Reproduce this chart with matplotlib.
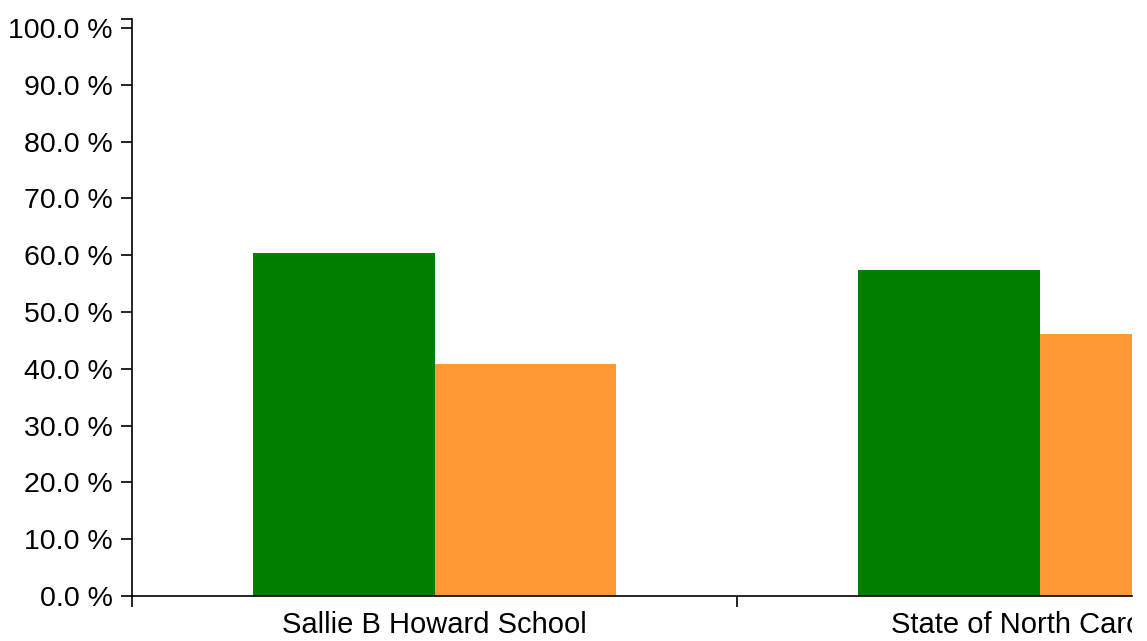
import matplotlib.pyplot as plt
from matplotlib.transforms import Bbox

categories = ["Sallie B Howard School", "State of North Carolina"]
green_values = [60.4, 57.4]
orange_values = [40.8, 46.1]
y_ticks = [0, 10, 20, 30, 40, 50, 60, 70, 80, 90, 100]

W, H = 1147, 641


def main():
    plt.rcParams["font.family"] = ["Liberation Sans", "DejaVu Sans"]
    fig = plt.figure(figsize=(W / 100, H / 100), dpi=100)
    ax = fig.add_axes([132 / W, (H - 596) / H, 1000 / W, (596 - 19) / H])

    # bars, one category per unit, clipped on the right like the original
    centers = [i + 0.5 for i in range(len(categories))]
    width = 0.3
    ax.bar([c - width / 2 for c in centers], green_values, width=width,
           color="#008000", linewidth=0)
    ax.bar([c + width / 2 for c in centers], orange_values, width=width,
           color="#FF9933", linewidth=0)

    ax.set_xlim(0, 1000 / 605)
    ax.set_ylim(0, 101.6)

    ax.set_yticks(y_ticks)
    ax.set_yticklabels([f"{v:.1f} %" for v in y_ticks])
    ax.set_yticks([101.6], minor=True)
    ax.tick_params(axis="y", which="both", direction="out", length=8,
                   width=1.2, labelsize=20.5, pad=6)

    ax.set_xticks([0, 1])
    ax.set_xticklabels([])
    ax.tick_params(axis="x", direction="out", length=8, width=1.2)

    for s in ["top", "right"]:
        ax.spines[s].set_visible(False)
    for s in ["left", "bottom"]:
        ax.spines[s].set_linewidth(1.2)

    # category labels, cut at the right edge of the plot like the original
    clip_box = Bbox.from_extents(0, 0, 1132, H)
    for c, name in zip(centers, categories):
        t = ax.text(c, (596 - 633) / 577, name, ha="center", va="baseline",
                    fontsize=21, transform=ax.get_xaxis_transform())
        t.set_clip_on(True)
        t.set_clip_box(clip_box)

    fig.savefig("out.png", dpi=100)


if __name__ == "__main__":
    main()
